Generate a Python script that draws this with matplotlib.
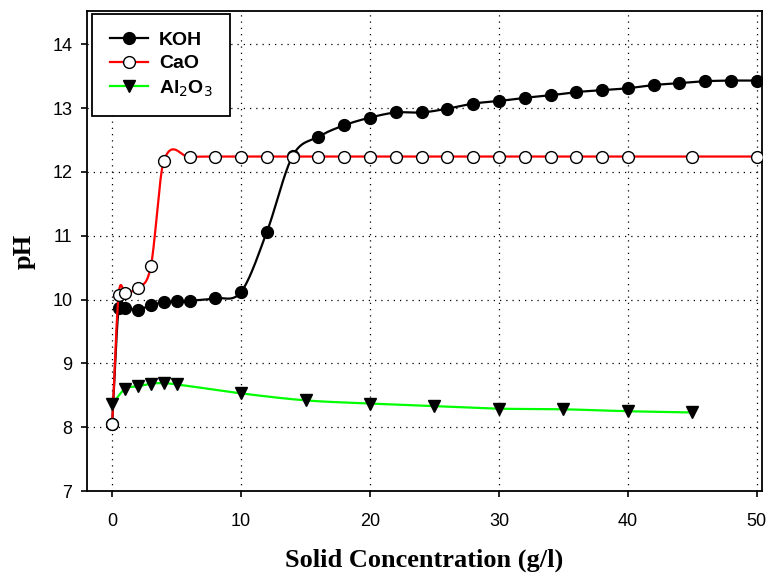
import numpy as np
import matplotlib

matplotlib.use("Agg")
import matplotlib.pyplot as plt

# pH vs solid concentration (g/l)
koh_x = [0, 0.5, 1, 2, 3, 4, 5, 6, 8, 10, 12, 14, 16, 18, 20, 22, 24, 26, 28, 30,
         32, 34, 36, 38, 40, 42, 44, 46, 48, 50]
koh_y = [8.05, 9.86, 9.86, 9.84, 9.91, 9.96, 9.97, 9.98, 10.02, 10.12, 11.06, 12.25,
         12.55, 12.73, 12.85, 12.93, 12.93, 12.99, 13.07, 13.11, 13.16, 13.2, 13.25,
         13.28, 13.31, 13.36, 13.39, 13.42, 13.43, 13.43]

cao_x = [0, 0.5, 1, 2, 3, 4, 6, 8, 10, 12, 14, 16, 18, 20, 22, 24, 26, 28, 30, 32,
         34, 36, 38, 40, 45, 50]
cao_y = [8.05, 10.07, 10.1, 10.18, 10.52, 12.17, 12.23, 12.24, 12.24, 12.24, 12.24,
         12.24, 12.24, 12.24, 12.24, 12.24, 12.24, 12.24, 12.24, 12.24, 12.24, 12.24,
         12.24, 12.24, 12.24, 12.24]

al_x = [0, 1, 2, 3, 4, 5, 10, 15, 20, 25, 30, 35, 40, 45]
al_y = [8.36, 8.6, 8.64, 8.68, 8.69, 8.67, 8.53, 8.42, 8.37, 8.33, 8.29, 8.28, 8.25, 8.23]


def smooth(x, y, per_seg=40):
    """Catmull-Rom style cubic through the points, used for the connecting line."""
    x = np.asarray(x, float)
    y = np.asarray(y, float)
    m = np.empty_like(y)
    m[1:-1] = (y[2:] - y[:-2]) / (x[2:] - x[:-2])
    m[0] = (y[1] - y[0]) / (x[1] - x[0])
    m[-1] = (y[-1] - y[-2]) / (x[-1] - x[-2])
    xs, ys = [], []
    t = np.linspace(0, 1, per_seg, endpoint=False)
    for i in range(len(x) - 1):
        h = x[i + 1] - x[i]
        h00 = 2 * t**3 - 3 * t**2 + 1
        h10 = t**3 - 2 * t**2 + t
        h01 = -2 * t**3 + 3 * t**2
        h11 = t**3 - t**2
        xs.append(x[i] + t * h)
        ys.append(h00 * y[i] + h10 * h * m[i] + h01 * y[i + 1] + h11 * h * m[i + 1])
    xs.append([x[-1]])
    ys.append([y[-1]])
    return np.concatenate(xs), np.concatenate(ys)


plt.rcParams["font.family"] = ["Liberation Sans", "DejaVu Sans"]

fig = plt.figure(figsize=(7.7, 5.73), dpi=100)
ax = fig.add_axes([0.113, 0.1431, 0.8766, 0.8377])

series = [
    ("KOH", koh_x, koh_y, "black", "o", "black"),
    ("CaO", cao_x, cao_y, "red", "o", "white"),
    ("Al$_2$O$_3$", al_x, al_y, "#00ff00", "v", "black"),
]
for i, (name, xv, yv, lc, mk, fc) in enumerate(series):
    xs, ys = smooth(xv, yv)
    ax.plot(xs, ys, color=lc, lw=1.6, zorder=2 + 2 * i)
    ax.plot(xv, yv, ls="none", marker=mk, ms=8.5, mfc=fc, mec="black", mew=1.0,
            zorder=3 + 2 * i)
    # proxy for legend
    ax.plot([], [], color=lc, lw=1.6, marker=mk, ms=8.5, mfc=fc, mec="black",
            mew=1.0, label=name)

ax.set_xlim(-1.95, 50.4)
ax.set_ylim(7, 14.52)
ax.set_xticks(range(0, 51, 10))
ax.set_yticks(range(7, 15))
ax.grid(True, color="black", ls=(0, (1, 4)), lw=0.9)
ax.tick_params(direction="out", length=4.5, width=1.2, labelsize=13,
               top=False, right=False)
ax.tick_params(axis="x", pad=11)
ax.tick_params(axis="y", pad=6)
for s in ax.spines.values():
    s.set_linewidth(1.3)

ax.set_xlabel("Solid Concentration (g/l)", family="Liberation Serif",
              fontweight="bold", fontsize=19, labelpad=14)
ax.set_ylabel("pH", family="Liberation Serif", fontweight="bold", fontsize=19,
              labelpad=12)

leg = ax.legend(loc="upper left", bbox_to_anchor=(0.0074, 0.994), borderaxespad=0,
                fancybox=False, edgecolor="black", framealpha=1, handlelength=2.0,
                handletextpad=0.55, prop={"weight": "bold", "size": 14},
                borderpad=0.9, labelspacing=0.3)
leg.get_frame().set_linewidth(1.3)
leg.set_zorder(10)

fig.savefig("out.png", dpi=100)
